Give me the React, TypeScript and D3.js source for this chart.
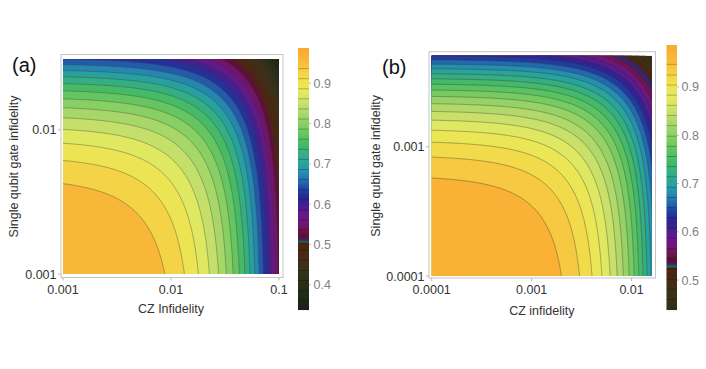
import React, { useMemo } from "react";
import * as d3 from "d3";

// ---------- data ----------
// panel (a)
const aXDomain = [0.001, 0.1];
const aYDomain = [0.001, 0.031];
const aXTicks = [0.001, 0.01, 0.1];
const aXTickLabels = ["0.001", "0.01", "0.1"];
const aYTicks = [0.001, 0.01];
const aYTickLabels = ["0.001", "0.01"];
const aExponents = [5.9, 14.2]; // fidelity = (1-eCZ)^n * (1-e1q)^m
const aLevels = [0.936, 0.911, 0.886, 0.861, 0.836, 0.811, 0.786, 0.761, 0.736, 0.711, 0.686, 0.661, 0.636, 0.611, 0.586, 0.561, 0.536, 0.511, 0.486, 0.461, 0.436, 0.411, 0.386, 0.361];
const aBarDomain = [0.338, 0.987];
const aBarTicks = [0.4, 0.5, 0.6, 0.7, 0.8, 0.9];

// panel (b)
const bXDomain = [0.0001, 0.016];
const bYDomain = [0.0001, 0.00506];
const bXTicks = [0.0001, 0.001, 0.01];
const bXTickLabels = ["0.0001", "0.001", "0.01"];
const bYTicks = [0.0001, 0.001];
const bYTickLabels = ["0.0001", "0.001"];
const bExponents = [22.8, 91];
const bLevels = [0.947, 0.925, 0.904, 0.883, 0.862, 0.841, 0.82, 0.798, 0.777, 0.756, 0.735, 0.714, 0.692, 0.671, 0.65, 0.629, 0.608, 0.587, 0.565, 0.544, 0.523, 0.502, 0.481, 0.46];
const bBarDomain = [0.438, 0.987];
const bBarTicks = [0.5, 0.6, 0.7, 0.8, 0.9];

// colour function stops
const stopColors = ["#F9A931", "#F9B83A", "#F6CF44", "#F0E250", "#E6EA5E", "#CDE26A", "#B0D96A", "#92D166", "#6CC860", "#4CBD62", "#38B27A", "#2BA59A", "#2590B0", "#2468AE", "#2040A0", "#2A2594", "#46208E", "#64188C", "#721676", "#6C1450", "#58102A", "#2A2E8A", "#1E6A5A", "#4E2410", "#442C14", "#3A3218", "#2A2E18", "#1C2818", "#16201A"];
const aStops = [0.987, 0.955, 0.93, 0.905, 0.88, 0.855, 0.83, 0.805, 0.78, 0.755, 0.73, 0.705, 0.68, 0.655, 0.635, 0.615, 0.595, 0.575, 0.555, 0.535, 0.518, 0.512, 0.508, 0.503, 0.47, 0.44, 0.4, 0.36, 0.338];
const bStops = [0.987, 0.955, 0.93, 0.905, 0.88, 0.855, 0.83, 0.805, 0.78, 0.755, 0.73, 0.705, 0.682, 0.66, 0.642, 0.624, 0.606, 0.588, 0.57, 0.552, 0.537, 0.532, 0.528, 0.524, 0.494, 0.467, 0.431, 0.396, 0.376];

const FONT = "'Liberation Sans', Arial, Helvetica, sans-serif";

type PanelCfg = {
  id: string;
  tag: string;
  xTitle: string;
  xDomain: number[];
  yDomain: number[];
  xTicks: number[];
  xTickLabels: string[];
  yTicks: number[];
  yTickLabels: string[];
  exps: number[];
  levels: number[];
  barDomain: number[];
  barTicks: number[];
  stops: number[];
  plot: { x0: number; x1: number; y0: number; y1: number };
  frame: { x0: number; x1: number; y0: number; y1: number };
  bar: { x0: number; x1: number; y0: number; y1: number };
  tagPos: [number, number];
  yTitleX: number;
  xTitleY: number;
};

function Panel({ cfg }: { cfg: PanelCfg }) {
  const { plot, frame, bar } = cfg;
  const xs = d3.scaleLog().domain(cfg.xDomain).range([plot.x0, plot.x1]);
  const ys = d3.scaleLog().domain(cfg.yDomain).range([plot.y1, plot.y0]);
  const color = d3
    .scaleLinear<string>()
    .domain(cfg.stops)
    .range(stopColors)
    .interpolate(d3.interpolateRgb)
    .clamp(true);
  const barScale = d3.scaleLinear().domain(cfg.barDomain).range([bar.y1, bar.y0]);

  const fid = (x: number, y: number) =>
    Math.pow(1 - x, cfg.exps[0]) * Math.pow(1 - y, cfg.exps[1]);

  const { bands, bgColor } = useMemo(() => {
    const nx = 260,
      ny = 260,
      pad = 5;
    const gx0 = plot.x0 - pad,
      gx1 = plot.x1 + pad,
      gy0 = plot.y0 - pad,
      gy1 = plot.y1 + pad;
    const values = new Float64Array(nx * ny);
    for (let j = 0; j < ny; j++) {
      const py = gy0 + (j * (gy1 - gy0)) / (ny - 1);
      const yv = ys.invert(py);
      for (let i = 0; i < nx; i++) {
        const px = gx0 + (i * (gx1 - gx0)) / (nx - 1);
        const xv = xs.invert(px);
        values[j * nx + i] = fid(xv, yv);
      }
    }
    const asc = [...cfg.levels].sort((a, b) => a - b);
    const gen = d3.contours().size([nx, ny]).thresholds(asc);
    const polys = gen(values as any);
    const mx = (c: number) => gx0 + ((c - 0.5) * (gx1 - gx0)) / (nx - 1);
    const my = (c: number) => gy0 + ((c - 0.5) * (gy1 - gy0)) / (ny - 1);
    const toPath = (mp: any) =>
      mp.coordinates
        .map((poly: any) =>
          poly
            .map(
              (ring: any) =>
                "M" +
                ring.map((p: number[]) => `${mx(p[0]).toFixed(2)},${my(p[1]).toFixed(2)}`).join("L") +
                "Z"
            )
            .join("")
        )
        .join("");
    const fmax = fid(cfg.xDomain[0], cfg.yDomain[0]);
    const fmin = fid(cfg.xDomain[1], cfg.yDomain[1]);
    const out = polys.map((mp: any, k: number) => {
      const lo = asc[k];
      const hi = k + 1 < asc.length ? asc[k + 1] : fmax;
      return { d: toPath(mp), fill: color((lo + hi) / 2) };
    });
    return { bands: out, bgColor: color((fmin + asc[0]) / 2) };
  }, [cfg.id]);

  const barRows = d3.range(Math.round(bar.y0), Math.round(bar.y1)).map((py) => ({
    y: py,
    c: color(barScale.invert(py + 0.5)),
  }));

  const clipId = `clip-${cfg.id}`;
  const tickCol = "#b8b8b8";
  return (
    <g>
      <defs>
        <clipPath id={clipId}>
          <rect x={plot.x0} y={plot.y0} width={plot.x1 - plot.x0} height={plot.y1 - plot.y0} />
        </clipPath>
      </defs>
      <g clipPath={`url(#${clipId})`}>
        <rect x={plot.x0} y={plot.y0} width={plot.x1 - plot.x0} height={plot.y1 - plot.y0} fill={bgColor} />
        {bands.map((b, i) => (
          <path key={`f${i}`} d={b.d} fill={b.fill} fillRule="evenodd" stroke={b.fill} strokeWidth={0.3} />
        ))}
        {bands.map((b, i) => (
          <path key={`l${i}`} d={b.d} fill="none" stroke="#3a3a3a" strokeOpacity={0.55} strokeWidth={0.7} />
        ))}
      </g>
      <rect
        x={frame.x0}
        y={frame.y0}
        width={frame.x1 - frame.x0}
        height={frame.y1 - frame.y0}
        fill="none"
        stroke="#c4c4c4"
        strokeWidth={1}
      />
      {cfg.xTicks.map((t, i) => (
        <g key={`xt${i}`}>
          <line x1={xs(t)} x2={xs(t)} y1={frame.y1} y2={frame.y1 + 3} stroke={tickCol} />
          <text x={xs(t)} y={frame.y1 + 16} textAnchor="middle" fontSize={12.5} fill="#333" fontFamily={FONT}>
            {cfg.xTickLabels[i]}
          </text>
        </g>
      ))}
      {cfg.yTicks.map((t, i) => (
        <g key={`yt${i}`}>
          <line x1={frame.x0 - 3} x2={frame.x0} y1={ys(t)} y2={ys(t)} stroke={tickCol} />
          <text x={frame.x0 - 4.5} y={ys(t) + 4.5} textAnchor="end" fontSize={12.5} fill="#333" fontFamily={FONT}>
            {cfg.yTickLabels[i]}
          </text>
        </g>
      ))}
      <text
        x={(plot.x0 + plot.x1) / 2}
        y={cfg.xTitleY}
        textAnchor="middle"
        fontSize={12.5}
        fill="#333"
        fontFamily={FONT}
      >
        {cfg.xTitle}
      </text>
      <text
        transform={`translate(${cfg.yTitleX},${(plot.y0 + plot.y1) / 2}) rotate(-90)`}
        textAnchor="middle"
        fontSize={12.5}
        fill="#333"
        fontFamily={FONT}
      >
        Single qubit gate infidelity
      </text>
      <text x={cfg.tagPos[0]} y={cfg.tagPos[1]} fontSize={20} fill="#111" fontFamily={FONT}>
        {cfg.tag}
      </text>
      {/* colour bar */}
      {barRows.map((r) => (
        <rect key={`br${r.y}`} x={bar.x0} y={r.y} width={bar.x1 - bar.x0} height={1.05} fill={r.c} />
      ))}
      {cfg.levels.map((l, i) => (
        <line
          key={`bl${i}`}
          x1={bar.x0}
          x2={bar.x1}
          y1={barScale(l)}
          y2={barScale(l)}
          stroke="#000"
          strokeOpacity={0.3}
          strokeWidth={0.8}
        />
      ))}
      {cfg.barTicks.map((t, i) => (
        <g key={`bt${i}`}>
          <line x1={bar.x1} x2={bar.x1 + 2} y1={barScale(t)} y2={barScale(t)} stroke="#bbb" />
          <text x={bar.x1 + 4.5} y={barScale(t) + 4.5} fontSize={12.5} fill="#808080" fontFamily={FONT}>
            {t.toFixed(1)}
          </text>
        </g>
      ))}
    </g>
  );
}

const panelA: PanelCfg = {
  id: "a",
  tag: "(a)",
  xTitle: "CZ Infidelity",
  xDomain: aXDomain,
  yDomain: aYDomain,
  xTicks: aXTicks,
  xTickLabels: aXTickLabels,
  yTicks: aYTicks,
  yTickLabels: aYTickLabels,
  exps: aExponents,
  levels: aLevels,
  barDomain: aBarDomain,
  barTicks: aBarTicks,
  stops: aStops,
  plot: { x0: 63, x1: 279, y0: 59, y1: 274 },
  frame: { x0: 61, x1: 283, y0: 54.5, y1: 277.5 },
  bar: { x0: 298, x1: 309, y0: 48, y1: 310 },
  tagPos: [12, 72],
  yTitleX: 18,
  xTitleY: 313,
};

const panelB: PanelCfg = {
  id: "b",
  tag: "(b)",
  xTitle: "CZ infidelity",
  xDomain: bXDomain,
  yDomain: bYDomain,
  xTicks: bXTicks,
  xTickLabels: bXTickLabels,
  yTicks: bYTicks,
  yTickLabels: bYTickLabels,
  exps: bExponents,
  levels: bLevels,
  barDomain: bBarDomain,
  barTicks: bBarTicks,
  stops: bStops,
  plot: { x0: 431.7, x1: 652, y0: 55.7, y1: 276 },
  frame: { x0: 429, x1: 655.5, y0: 51.7, y1: 278 },
  bar: { x0: 666.5, x1: 677, y0: 45, y1: 310 },
  tagPos: [382, 74],
  yTitleX: 380,
  xTitleY: 315,
};

export default function App() {
  return (
    <svg
      width={706}
      height={369}
      viewBox="0 0 706 369"
      style={{ position: "absolute", left: 0, top: 0, display: "block", background: "#fff" }}
    >
      <rect width={706} height={369} fill="#fff" />
      <Panel cfg={panelA} />
      <Panel cfg={panelB} />
    </svg>
  );
}
